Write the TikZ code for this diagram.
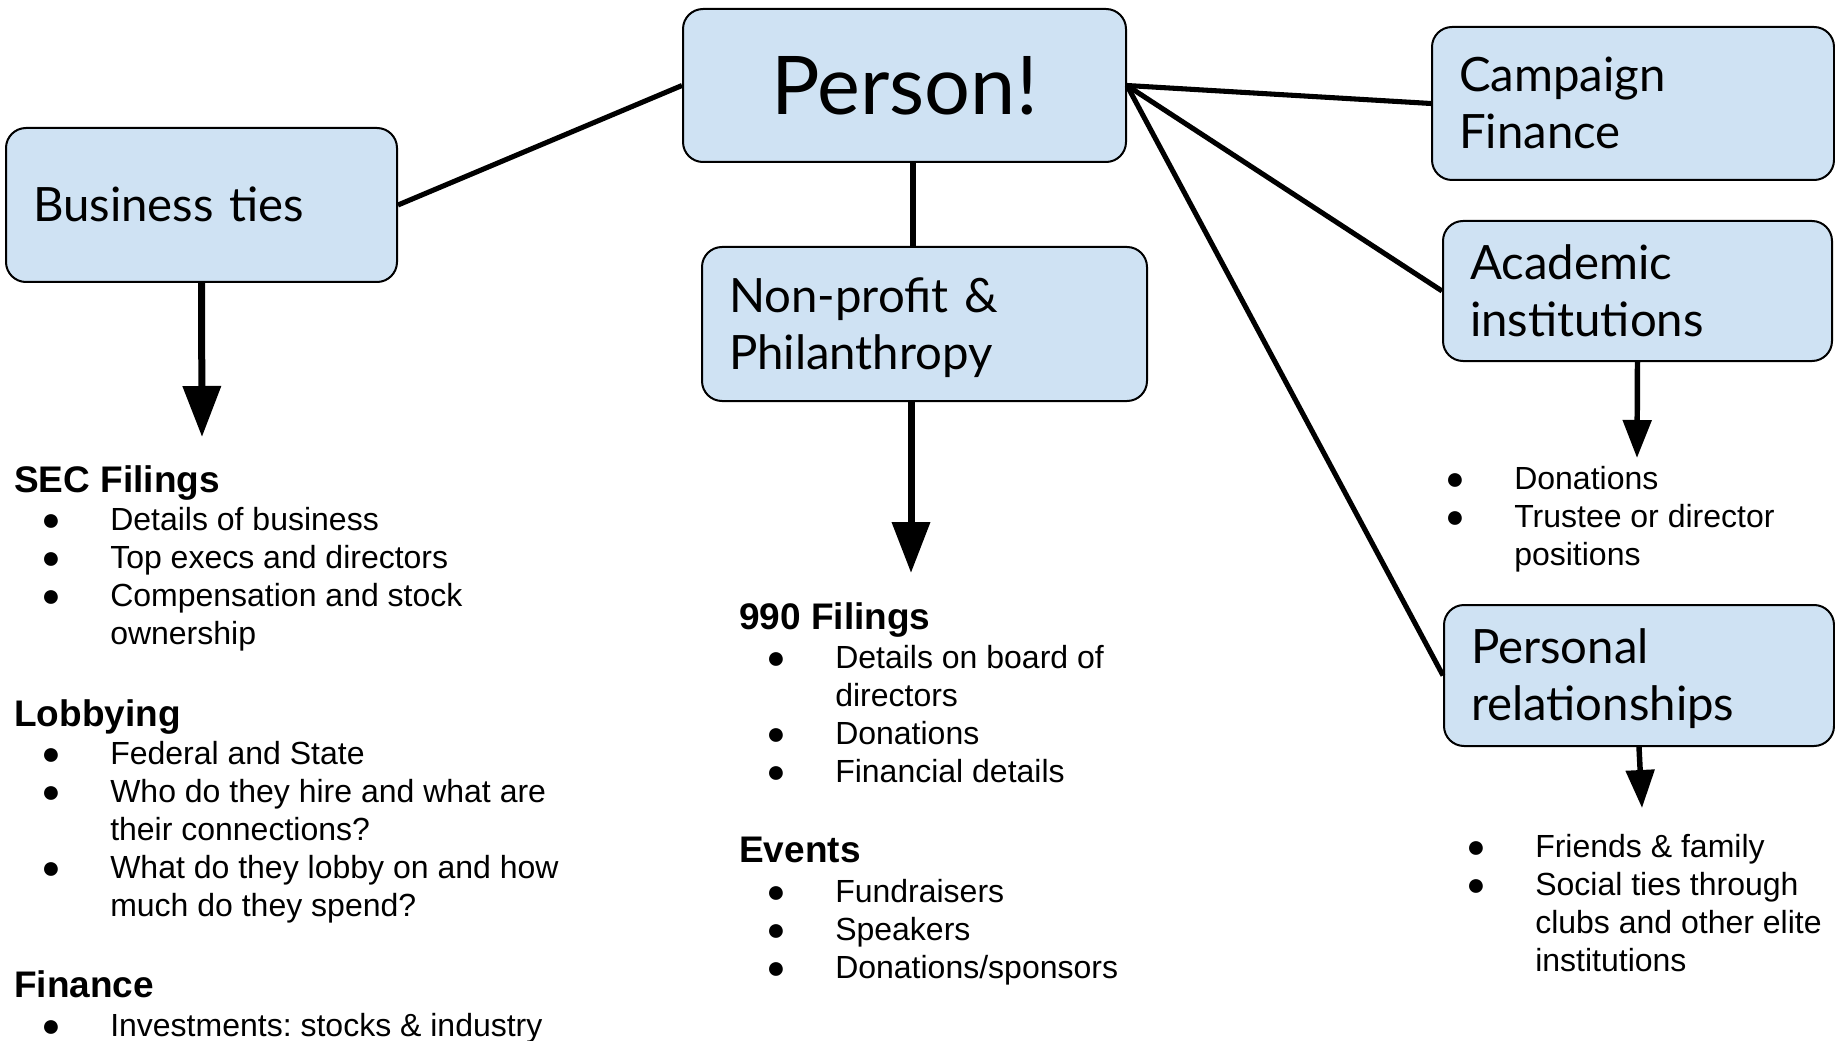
\documentclass[tikz,border=0pt]{standalone}
\usepackage{fontspec}
\usetikzlibrary{arrows.meta}
\setmainfont{Liberation Sans}
\newfontfamily\boxfont{Lato}
\definecolor{boxblue}{HTML}{CFE2F3}
\frenchspacing
\newcommand{\bul}{\makebox[51.75pt][l]{●}}
\newcommand{\gap}{\hspace*{51.75pt}}
\newcommand{\tstrut}{\rule[-8.6pt]{0pt}{42.35pt}}

\begin{document}
\begin{tikzpicture}[x=0.75pt, y=-0.75pt,
    topic/.style={draw=black, line width=1.5pt, fill=boxblue, rounded corners=15pt,
        font=\boxfont\fontsize{35.5}{42.75}\selectfont, align=left, inner xsep=20.25pt, inner ysep=0pt},
    link/.style={line width=3.8pt},
    bigarrow/.style={line width=5.25pt, -{Triangle[width=27.75pt,length=38.25pt]}},
    smallarrow/.style={line width=4.1pt, -{Triangle[width=21pt,length=28.5pt]}},
    heading/.style={anchor=base west, inner sep=0pt, font=\bfseries\fontsize{27.75}{33}\selectfont},
    items/.style={anchor=base west, inner sep=0pt, font=\fontsize{24}{28.5}\selectfont}]
        \useasboundingbox (0,0) rectangle (1835,1041);

        % Draw the boxes
        \node[topic, align=center, minimum width=332.25pt, minimum height=114.75pt,
            font=\boxfont\fontsize{60.75}{70}\selectfont] (person) at (904.5,85.5) {Person!};
        \node[topic, text width=252.75pt, minimum height=115.5pt] (business) at (201.5,205) {\tstrut Business ties};
        \node[topic, text width=261pt, minimum height=114.75pt] (campaign) at (1633,103.5) {\tstrut Campaign\\\tstrut Finance};
        \node[topic, text width=251.25pt, minimum height=105pt] (academic) at (1637.5,291) {\tstrut Academic\\\tstrut institutions};
        \node[topic, text width=293.25pt, minimum height=115.5pt] (nonprofit) at (924.5,324) {\tstrut Non-profit \&\\\tstrut Philanthropy};
        \node[topic, text width=252pt, minimum height=105.75pt] (personal) at (1639,675.5) {\tstrut Personal\\\tstrut relationships};

        % Add connectors
        \coordinate (stem) at (913,0);
        \draw[link] (person.west) -- (business.east);
        \draw[link] (person.east) -- (campaign.west);
        \draw[link] (person.east) -- (academic.west);
        \draw[link] (person.east) -- (personal.west);
        \draw[link] (person.south -| stem) -- (nonprofit.north -| stem);

        % Add arrows
        \coordinate (sectip) at (202,437);
        \coordinate (formtip) at (911,573);
        \coordinate (acadtip) at (1637,458);
        \coordinate (perstip) at (1642,808);
        \draw[bigarrow] (business.south) -- (sectip);
        \draw[bigarrow] (nonprofit.south -| formtip) -- (formtip);
        \draw[smallarrow] (academic.south) -- (acadtip);
        \draw[smallarrow] (personal.south) -- (perstip);

        % Business lists
        \node[heading] (sechead) at (14,492) {SEC Filings};
        \node[items] (seclist) at (41,530) {\begin{tabular}[t]{@{}l@{}}
            \bul Details of business\\ \bul Top execs and directors\\
            \bul Compensation and stock\\ \gap ownership\end{tabular}};
        \node[heading] (lobbyhead) at (14,726) {Lobbying};
        \node[items] (lobbylist) at (41,764) {\begin{tabular}[t]{@{}l@{}}
            \bul Federal and State\\ \bul Who do they hire and what are\\
            \gap their connections?\\ \bul What do they lobby on and how\\
            \gap much do they spend?\end{tabular}};
        \node[heading] (finhead) at (14,997) {Finance};
        \node[items] (finlist) at (41,1036) {\begin{tabular}[t]{@{}l@{}}
            \bul Investments: stocks \& industry\end{tabular}};

        % Non-profit lists
        \node[heading] (formhead) at (739,629) {990 Filings};
        \node[items] (formlist) at (766,668) {\begin{tabular}[t]{@{}l@{}}
            \bul Details on board of\\ \gap directors\\
            \bul Donations\\ \bul Financial details\end{tabular}};
        \node[heading] (eventhead) at (739,862) {Events};
        \node[items] (eventlist) at (766,902) {\begin{tabular}[t]{@{}l@{}}
            \bul Fundraisers\\ \bul Speakers\\ \bul Donations/sponsors\end{tabular}};

        % Right lists
        \node[items] (acadlist) at (1445,489) {\begin{tabular}[t]{@{}l@{}}
            \bul Donations\\ \bul Trustee or director\\ \gap positions\end{tabular}};
        \node[items] (perslist) at (1466,857) {\begin{tabular}[t]{@{}l@{}}
            \bul Friends \& family\\ \bul Social ties through\\
            \gap clubs and other elite\\ \gap institutions\end{tabular}};
    \end{tikzpicture}
\end{document}
